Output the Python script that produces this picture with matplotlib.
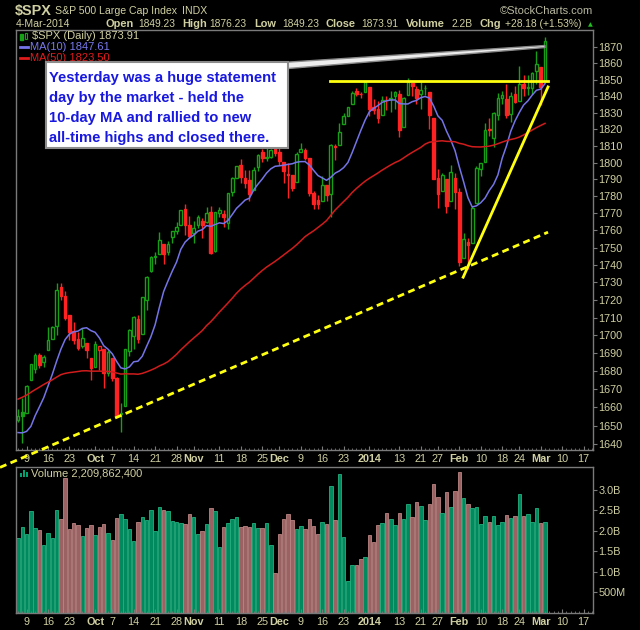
import matplotlib
matplotlib.use("Agg")
import matplotlib.pyplot as plt
import numpy as np
import pandas as pd
from matplotlib.patches import Rectangle, Polygon
from matplotlib.ticker import FixedLocator, NullLocator, NullFormatter

plt.rcParams["font.family"] = ["Liberation Sans", "DejaVu Sans"]

# ---- data (SPX daily, 5-Sep-2013 .. 4-Mar-2014) ----
start_date = "2013-09-05"
end_date = "2014-03-21"
holidays = ["2013-11-28", "2013-12-25", "2014-01-01", "2014-01-20", "2014-02-17"]

# closes before the window, only used to warm up the moving averages
prior_closes = [1573.09, 1588.03, 1603.26, 1613.20, 1606.28,
                1614.96, 1614.08, 1615.41, 1631.89, 1640.46, 1652.32, 1652.62, 1675.02, 1680.19,
                1682.50, 1676.26, 1680.91, 1689.37, 1692.09, 1695.53, 1692.39, 1685.94, 1690.25,
                1691.65, 1685.33, 1685.96, 1685.73,
                1706.87, 1709.67, 1707.14, 1697.37, 1690.91, 1697.48, 1691.42, 1689.47, 1694.16,
                1685.39, 1661.32, 1655.83, 1646.06, 1652.35, 1642.80, 1656.96, 1663.50, 1656.78,
                1630.48, 1634.96, 1638.17, 1632.97, 1639.77, 1653.08]

opens = [1653.3, 1657.4, 1656.85, 1675.1, 1681.0, 1689.21, 1685.04, 1691.7, 1697.73, 1705.0,
         1727.34, 1722.44, 1711.44, 1702.6, 1698.02, 1694.05, 1695.52, 1687.26,
         1682.41, 1691.9, 1692.35, 1678.79, 1687.15, 1676.22, 1656.99, 1660.88, 1691.09, 1699.86,
         1709.17, 1700.49, 1720.17, 1736.72, 1745.2, 1746.48, 1752.27, 1747.48, 1756.01, 1759.42,
         1762.93, 1772.27, 1763.24,
         1758.7, 1763.4, 1765.67, 1765.0, 1770.74, 1748.37, 1769.96, 1769.51, 1764.37, 1782.75,
         1790.66, 1798.82, 1790.79, 1789.59, 1783.52, 1797.21, 1806.33, 1802.87, 1803.48, 1808.01,
         1806.55, 1800.1, 1793.15, 1792.82, 1788.36, 1806.21, 1807.6, 1802.76, 1781.71, 1777.98,
         1777.48, 1786.47, 1781.46, 1809.0, 1810.39, 1822.92, 1828.02, 1834.96, 1842.97, 1841.47,
         1842.61,
         1845.86, 1833.21, 1832.31, 1828.71, 1837.9, 1839.0, 1840.06, 1841.26, 1821.36, 1840.52,
         1847.99, 1844.23, 1841.05, 1844.71, 1842.29, 1826.96, 1791.03, 1783.0, 1790.15, 1777.17,
         1790.88,
         1782.68, 1743.82, 1753.38, 1752.99, 1776.01, 1796.2, 1800.45, 1820.12, 1814.82, 1828.46,
         1839.03, 1838.22, 1829.24, 1841.07, 1836.78, 1847.66, 1845.79, 1844.9, 1855.12,
         1857.68, 1849.23]
highs = [1659.0, 1664.83, 1672.4, 1684.09, 1689.97, 1689.97, 1688.73, 1704.95, 1705.52, 1729.44,
         1729.86, 1725.23, 1711.44, 1707.63, 1701.71, 1703.85, 1695.52, 1687.26,
         1696.55, 1693.87, 1692.35, 1691.94, 1687.15, 1676.79, 1662.47, 1692.56, 1703.44, 1711.03,
         1711.57, 1721.76, 1733.45, 1745.31, 1747.79, 1759.33, 1752.27, 1753.94, 1759.82, 1764.99,
         1772.09, 1775.22, 1768.53,
         1765.67, 1768.78, 1767.03, 1773.74, 1774.54, 1770.78, 1773.44, 1771.78, 1782.0, 1791.53,
         1798.22, 1802.33, 1795.51, 1795.73, 1797.16, 1804.84, 1808.1, 1808.42, 1808.27, 1813.55,
         1810.02, 1800.1, 1799.8, 1792.82, 1806.04, 1811.52, 1808.52, 1802.97, 1782.99, 1780.92,
         1792.22, 1786.77, 1811.08, 1810.88, 1823.75, 1829.75, 1833.32, 1842.84, 1844.89, 1842.47,
         1849.44,
         1845.86, 1838.24, 1837.16, 1840.1, 1840.02, 1843.23, 1843.15, 1843.45, 1839.26, 1850.84,
         1847.99, 1846.04, 1849.31, 1846.87, 1842.29, 1826.96, 1795.98, 1793.87, 1790.15, 1798.77,
         1793.88,
         1784.83, 1758.73, 1755.79, 1774.06, 1798.03, 1799.94, 1823.54, 1826.55, 1830.25, 1841.65,
         1842.87, 1847.5, 1842.79, 1846.13, 1858.71, 1852.91, 1852.65, 1854.53, 1867.92,
         1857.68, 1876.23]
lows = [1652.0, 1640.62, 1656.85, 1675.1, 1678.7, 1681.96, 1682.22, 1691.7, 1697.73, 1700.35,
        1720.2, 1708.89, 1697.1, 1694.9, 1691.88, 1693.11, 1687.11, 1674.99,
        1682.07, 1680.34, 1670.36, 1677.33, 1674.7, 1655.03, 1646.47, 1660.88, 1688.52, 1692.13,
        1695.93, 1700.49, 1714.12, 1735.74, 1740.67, 1746.48, 1740.5, 1745.5, 1752.45, 1757.67,
        1762.93, 1757.24, 1755.72,
        1752.7, 1761.56, 1755.76, 1764.4, 1746.2, 1747.63, 1767.85, 1762.29, 1760.64, 1780.22,
        1790.66, 1788.0, 1784.72, 1777.23, 1783.52, 1794.7, 1800.58, 1800.77, 1802.77, 1803.98,
        1798.6, 1787.85, 1779.09, 1783.38, 1788.36, 1806.21, 1801.75, 1780.09, 1772.28, 1772.45,
        1777.48, 1777.05, 1767.99, 1801.35, 1810.25, 1822.92, 1828.02, 1834.96, 1839.81, 1838.77,
        1842.41,
        1827.74, 1829.13, 1823.73, 1828.71, 1831.4, 1830.38, 1832.43, 1815.52, 1821.36, 1840.52,
        1840.3, 1835.23, 1832.38, 1840.88, 1820.06, 1790.29, 1772.88, 1783.0, 1770.45, 1777.17,
        1772.26,
        1739.66, 1743.82, 1737.92, 1752.99, 1776.01, 1791.83, 1800.41, 1815.97, 1809.22, 1825.59,
        1835.01, 1826.99, 1824.58, 1835.6, 1836.78, 1840.19, 1840.66, 1841.13, 1847.67,
        1834.44, 1849.23]
closes = [1655.08, 1655.17, 1671.71, 1683.99, 1689.13, 1683.42, 1687.99, 1697.60, 1704.76, 1725.52,
          1722.34, 1709.91, 1701.84, 1697.42, 1692.77, 1698.67, 1691.75, 1681.55,
          1695.00, 1693.87, 1678.66, 1690.50, 1676.12, 1655.45, 1656.40, 1692.56, 1703.20, 1710.14,
          1698.06, 1721.54, 1733.15, 1744.50, 1744.66, 1754.67, 1746.38, 1752.07, 1759.77, 1762.11,
          1771.95, 1763.31, 1756.54,
          1761.64, 1767.93, 1762.97, 1770.49, 1747.15, 1770.61, 1771.89, 1767.69, 1782.00, 1790.62,
          1798.18, 1791.53, 1787.87, 1781.37, 1795.85, 1804.76, 1802.48, 1802.75, 1807.23, 1805.81,
          1800.90, 1795.15, 1792.81, 1785.03, 1805.09, 1808.37, 1802.62, 1782.22, 1775.50, 1775.32,
          1786.54, 1781.00, 1810.65, 1809.60, 1818.32, 1827.99, 1833.32, 1842.02, 1841.40, 1841.07,
          1848.36,
          1831.98, 1831.37, 1826.77, 1837.88, 1837.49, 1838.13, 1842.37, 1819.20, 1838.88, 1848.38,
          1845.89, 1838.70, 1843.80, 1844.86, 1828.46, 1790.29, 1781.56, 1792.50, 1774.20, 1794.19,
          1782.59,
          1741.89, 1755.20, 1751.64, 1773.43, 1797.02, 1799.84, 1819.75, 1819.26, 1829.83, 1838.63,
          1840.76, 1828.75, 1839.78, 1836.25, 1847.61, 1845.12, 1845.16, 1854.29, 1859.45,
          1845.73, 1873.91]
# volume in billions
volumes = [1.84, 2.09, 1.93, 2.49, 2.07, 2.02, 1.67, 1.94, 1.82, 2.51, 2.28, 3.28, 2.04, 2.19,
           2.14, 1.87, 2.07, 2.14, 1.89, 2.09, 2.16, 1.94, 1.77, 2.31, 2.41, 2.28, 2.04, 1.75,
           2.21, 2.33, 2.26, 2.50, 1.99, 2.58, 2.50, 2.48, 2.24, 2.21, 2.19, 2.16, 2.41, 2.33,
           1.92, 2.01, 2.16, 2.55, 2.48, 1.60, 2.09, 2.19, 2.28, 2.33, 2.09, 2.11, 2.09, 2.19,
           2.07, 2.07, 2.19, 1.67, 0.97, 1.92, 2.28, 2.41, 2.26, 2.04, 2.11, 2.04, 2.28, 2.11,
           1.92, 2.21, 2.16, 3.09, 2.26, 3.38, 1.85, 0.77, 1.16, 1.16, 1.31, 1.36, 1.89, 1.72,
           2.14, 2.19, 2.43, 2.28, 2.14, 2.43, 2.28, 2.65, 2.33, 2.70, 2.60, 2.26, 2.67, 3.14,
           2.82, 2.43, 2.94, 2.58, 2.97, 3.43, 2.80, 2.67, 2.55, 2.58, 2.16, 2.36, 2.21, 2.36,
           2.14, 2.21, 2.38, 2.31, 2.36, 2.89, 2.36, 2.41, 2.21, 2.55, 2.19, 2.21]

tick_dates = ["2013-09-09", "2013-09-16", "2013-09-23", "2013-10-01", "2013-10-07", "2013-10-14",
              "2013-10-21", "2013-10-28", "2013-11-01", "2013-11-11", "2013-11-18", "2013-11-25",
              "2013-12-02", "2013-12-09", "2013-12-16", "2013-12-23", "2014-01-02", "2014-01-13",
              "2014-01-21", "2014-01-27", "2014-02-03", "2014-02-10", "2014-02-18", "2014-02-24",
              "2014-03-03", "2014-03-10", "2014-03-17"]
tick_names = ["9", "16", "23", "Oct", "7", "14", "21", "28", "Nov", "11", "18", "25", "Dec", "9",
              "16", "23", "2014", "13", "21", "27", "Feb", "10", "18", "24", "Mar", "10", "17"]
bold_names = ["Oct", "Nov", "Dec", "2014", "Feb", "Mar"]

# trend lines drawn on the chart: (date index, price)
resistance = [(72.8, 1849.5), (123.7, 1849.5)]
rising_trend = [(103.9, 1733.0), (123.7, 1845.6)]
long_trend = [(-4.2, 1627.3), (123.7, 1759.0)]

# ---- derived ----
cal = pd.bdate_range(start_date, end_date)
cal = cal[~cal.isin(pd.to_datetime(holidays))]
cal_list = list(cal)
tick_pos = [cal_list.index(pd.Timestamp(d)) for d in tick_dates]

n = len(closes)
xi = np.arange(n)
all_closes = pd.Series(prior_closes + closes)
ma10 = all_closes.rolling(10).mean().values[-n:]
ma50 = all_closes.rolling(50).mean().values[-n:]
prev = [prior_closes[-1]] + closes[:-1]
up = [c >= p for c, p in zip(closes, prev)]

W, H = 640, 630
TAN = "#d0d0a2"
GRID = "#7a7a7a"
GREEN = "#16a016"
RED = "#ff2222"


def fx(px):
    return px / W


def fy(py):
    return 1 - py / H


fig = plt.figure(figsize=(6.4, 6.3), dpi=100, facecolor="black")

# ---- price panel ----
ax = fig.add_axes([fx(16), fy(450), fx(593) - fx(16), fy(30) - fy(450)], facecolor="black")
ax.set_yscale("log")

ax.vlines(xi, lows, highs, color=[GREEN if u else RED for u in up], lw=1, zorder=3)
for i in range(n):
    col = GREEN if up[i] else RED
    lo, hi = min(opens[i], closes[i]), max(opens[i], closes[i])
    hgt = max(hi - lo, 0.35)
    hollow = closes[i] > opens[i]
    ax.bar(i, hgt, bottom=lo, width=0.62, facecolor="black" if hollow else col,
           edgecolor=col, lw=1, zorder=4)

ax.plot(xi, ma10, color="#7474e8", lw=1.1, zorder=5)
ax.plot(xi, ma50, color="#d01c1c", lw=1.1, zorder=5)

for seg in [resistance, rising_trend]:
    ax.plot([p[0] for p in seg], [p[1] for p in seg], color="#ffff10", lw=2, zorder=6)
ax.plot([p[0] for p in long_trend], [p[1] for p in long_trend], color="#ffff10", lw=2,
        ls=(0, (2.5, 1.6)), zorder=6, clip_on=False)

ax.set_xlim(-0.47, 134.2)
ax.set_ylim(1636.7, 1880.7)
ax.yaxis.tick_right()
ax.yaxis.set_major_locator(FixedLocator(np.arange(1640, 1871, 10)))
ax.yaxis.set_minor_locator(NullLocator())
ax.yaxis.set_minor_formatter(NullFormatter())
ax.set_yticklabels([str(v) for v in range(1640, 1871, 10)])
ax.tick_params(axis="y", colors=GRID, labelcolor=TAN, labelsize=7.8, length=3, width=0.8, pad=1)

# ---- volume panel ----
av = fig.add_axes([fx(16), fy(613), fx(593) - fx(16), fy(467) - fy(613)], facecolor="black")
av.bar(xi, volumes, width=0.82,
       color=["#008a5e" if u else "#9a6262" for u in up],
       edgecolor=["#26b07e" if u else "#bc8484" for u in up], lw=0.6)
av.set_xlim(-0.47, 134.2)
av.set_ylim(0, 3.56)
av.yaxis.tick_right()
av.yaxis.set_major_locator(FixedLocator([0.5, 1.0, 1.5, 2.0, 2.5, 3.0]))
av.set_yticklabels(["500M", "1.0B", "1.5B", "2.0B", "2.5B", "3.0B"])
av.tick_params(axis="y", colors=GRID, labelcolor=TAN, labelsize=7.8, length=3, width=0.8, pad=1)

for a in [ax, av]:
    for s in a.spines.values():
        s.set_color(GRID)
        s.set_linewidth(1)
    a.xaxis.set_major_locator(FixedLocator(tick_pos))
    a.set_xticklabels(tick_names)
    a.xaxis.set_minor_locator(FixedLocator(np.arange(0, 135)))
    a.tick_params(axis="x", which="major", colors=GRID, labelcolor=TAN, labelsize=7.8,
                  length=3, direction="in", pad=3)
    a.tick_params(axis="x", which="minor", colors=GRID, length=1.5, direction="in")
    for lab in a.get_xticklabels():
        if lab.get_text() in bold_names:
            lab.set_fontweight("bold")

# ---- header ----
fig.text(fx(15), fy(11), "$SPX", color=TAN, fontsize=10.4, fontweight="bold", va="center")
fig.text(fx(55), fy(11), "S&P 500 Large Cap Index", color=TAN, fontsize=7.6, va="center")
fig.text(fx(182), fy(11), "INDX", color=TAN, fontsize=7.6, va="center")
fig.text(fx(593), fy(11), "\u00a9StockCharts.com", color="#b8b8a0", fontsize=8, va="center",
         ha="right")
fig.text(fx(16), fy(24), "4-Mar-2014", color=TAN, fontsize=7.6, va="center")
head_items = [(105, "Open", True), (138, "1849.23", False), (182, "High", True),
              (209, "1876.23", False), (254, "Low", True), (282, "1849.23", False),
              (326, "Close", True), (361, "1873.91", False), (406, "Volume", True),
              (451, "2.2B", False), (480, "Chg", True), (505, "+28.18 (+1.53%)", False)]
for px, s, b in head_items:
    fig.text(fx(px), fy(24), s, color=TAN, fontsize=7.9 if b else 7.4,
             fontweight="bold" if b else "normal", va="center")
fig.text(fx(590), fy(24.5), "\u25b2", color="#20c020", fontsize=4.5, va="center", ha="center",
         family="DejaVu Sans")

# ---- legend inside panels ----
fig.add_artist(Rectangle((fx(20), fy(40)), fx(3), fy(34) - fy(40), transform=fig.transFigure,
                         facecolor=GREEN, edgecolor=GREEN))
fig.add_artist(Rectangle((fx(25), fy(39)), fx(2), fy(33) - fy(39), transform=fig.transFigure,
                         facecolor="black", edgecolor=GREEN, lw=0.8))
fig.text(fx(32), fy(36), "$SPX (Daily) 1873.91", color=TAN, fontsize=8, va="center")
fig.add_artist(plt.Line2D([fx(20), fx(28)], [fy(47), fy(47)], transform=fig.transFigure,
                          color="#7474e8", lw=2))
fig.text(fx(30), fy(47), "MA(10) 1847.61", color="#7878ee", fontsize=8, va="center")
fig.add_artist(plt.Line2D([fx(20), fx(28)], [fy(58), fy(58)], transform=fig.transFigure,
                          color="#e01c1c", lw=2))
fig.text(fx(30), fy(58), "MA(50) 1823.50", color="#e01c1c", fontsize=8, va="center")

for k, hgt in enumerate([4, 7, 5]):
    fig.add_artist(Rectangle((fx(20 + 3 * k), fy(477)), fx(2), hgt / H, transform=fig.transFigure,
                             facecolor="#00a070", edgecolor="none"))
fig.text(fx(31), fy(473), "Volume 2,209,862,400", color=TAN, fontsize=8, va="center")

# ---- callout ----
fig.add_artist(Polygon([(fx(282), fy(62.5)), (fx(282), fy(69)), (fx(545), fy(47.5)),
                        (fx(545), fy(45.5))], closed=True, transform=fig.transFigure,
                       facecolor="#ececec", edgecolor="#8a8a8a", lw=1, zorder=8))
fig.add_artist(Rectangle((fx(45.7), fy(148.3)), fx(288) - fx(45.7), fy(62.3) - fy(148.3),
                         transform=fig.transFigure, facecolor="white", edgecolor="#8c8c8c",
                         lw=1.5, zorder=9))
callout = ["Yesterday was a huge statement", "day by the market - held the",
           "10-day MA and rallied to new", "all-time highs and closed there."]
for k, line in enumerate(callout):
    fig.text(fx(49), fy(78 + 20 * k), line, color="#1818e0", fontsize=10.6,
             fontweight="bold", va="center", zorder=10)

fig.savefig("out.png", dpi=100, facecolor="black")
